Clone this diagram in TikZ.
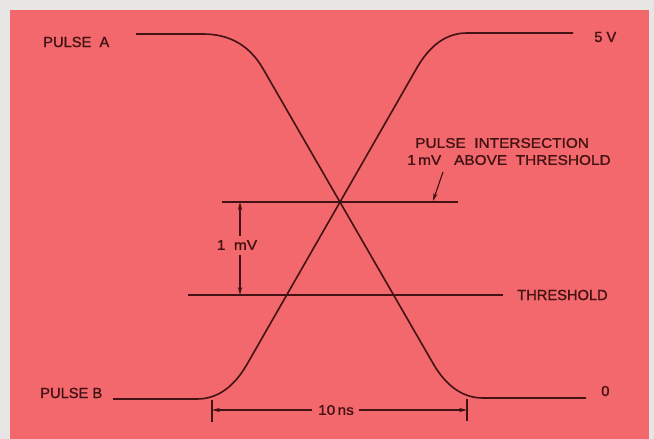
\documentclass[tikz,border=0pt]{standalone}
\usepackage{fontspec}
\setmainfont{Liberation Sans}
\newfontfamily\letterfont[FakeBold=1.3]{Liberation Sans}
\newfontfamily\letterwide[FakeBold=1.3,FakeStretch=1.1]{Liberation Sans}
\usetikzlibrary{arrows.meta}
\definecolor{bgred}{RGB}{242,104,108}
\definecolor{frame}{RGB}{232,230,228}
\definecolor{ink}{RGB}{66,18,20}
\begin{document}
\begin{tikzpicture}[x=0.75pt,y=-0.75pt,
  wave/.style={draw=ink,line width=1.2pt},
  ref/.style={draw=ink,line width=1.1pt},
  dim/.style={draw=ink,line width=0.85pt},
  tip/.style={-{Stealth[length=6pt,width=3.2pt]}},
  lbl/.style={text=ink,inner sep=0pt,font=\letterfont\fontsize{11}{12}\selectfont},
  small/.style={text=ink,inner sep=0pt,font=\letterwide\fontsize{10.5}{13}\selectfont}]
\useasboundingbox (0,0) rectangle (654,439);
\fill[frame] (0,0) rectangle (654,439);
\fill[bgred] (10,10) rectangle (649,439);

% labels
\node[lbl,anchor=west] (pa) at (43,42) {PULSE\ \ A};
\node[lbl,anchor=west] (pb) at (40,393) {PULSE B};
\node[lbl,anchor=west] (fv) at (594,37) {5 V};
\node[lbl,anchor=west] (zr) at (601,391) {0};
\node[lbl,anchor=west] (th) at (517,295) {THRESHOLD};
\node[small,anchor=west] (pi1) at (415,143) {PULSE\ \ INTERSECTION};
\node[small,anchor=west] (pi2) at (407,160) {1\,mV\ \ \ ABOVE\ \ THRESHOLD};
\node[small] (mv) at (237,245) {1\ \ mV};
\node[small] (ns) at (336,410) {10\,ns};

% pulses
\draw[wave] (136,34) -- (203,34) .. controls (229.7,34) and (249.7,45.6) .. (263,68.7)
  -- (433,363.3) .. controls (446.3,386.4) and (463,398) .. (483,398) -- (586,398);
\draw[wave] (113,399) -- (197,399) .. controls (217,399) and (233.7,387.4) .. (247,364.3)
  -- (417,67.7) .. controls (430.3,44.6) and (447,33) .. (467,33) -- (573,33);

% reference lines
\coordinate (iL) at (222,202); \coordinate (iR) at (458,202);
\coordinate (tL) at (188,295); \coordinate (tR) at (503,295);
\draw[ref] (iL) -- (iR);
\draw[ref] (tL) -- (tR);

% 1 mV dimension
\coordinate (mtop) at (240,202); \coordinate (mbot) at (240,295);
\draw[dim,tip] (mv.north -| mtop) ++(0,-4) -- (mtop);
\draw[dim,tip] (mv.south -| mbot) ++(0,5) -- (mbot);

% leader
\coordinate (ld) at (433,201);
\draw[dim,tip] (443,172) -- (ld);

% 10 ns dimension
\coordinate (k1a) at (212,400); \coordinate (k1b) at (212,422);
\coordinate (k2a) at (467,399); \coordinate (k2b) at (467,421);
\draw[dim] (k1a) -- (k1b);
\draw[dim] (k2a) -- (k2b);
\draw[dim,tip] (ns.west) ++(-6,0) -- (212,410);
\draw[dim,tip] (ns.east) ++(5,0) -- (467,410);
\end{tikzpicture}
\end{document}
